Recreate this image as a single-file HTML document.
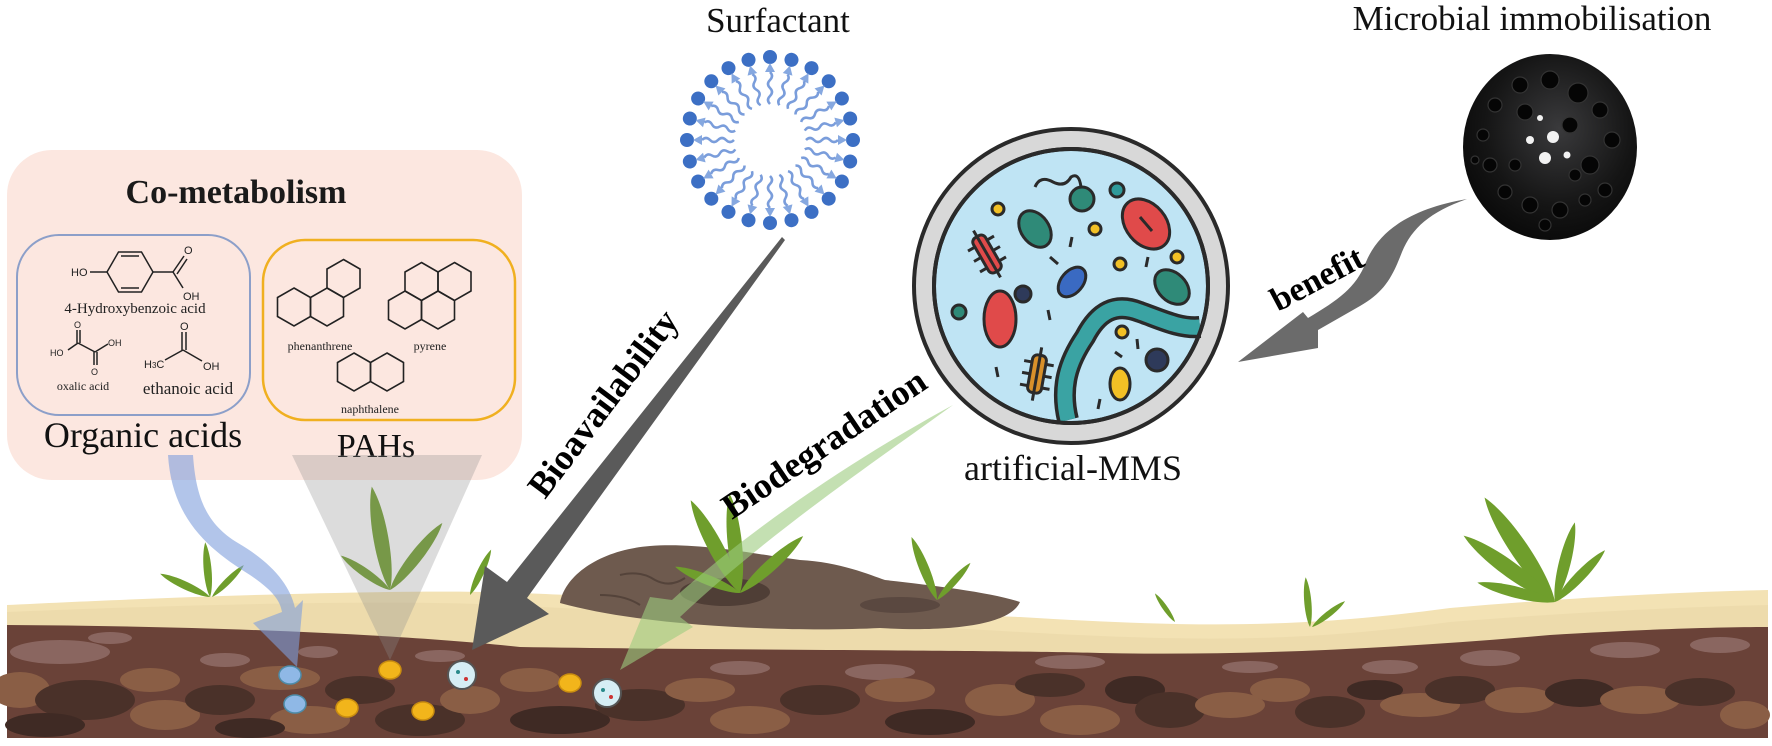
<!DOCTYPE html>
<html><head><meta charset="utf-8"><style>html,body{margin:0;padding:0;background:#fff}svg{display:block}</style></head>
<body>
<svg width="1772" height="746" viewBox="0 0 1772 746" xmlns="http://www.w3.org/2000/svg">
<defs>
<radialGradient id="sg" cx="0.55" cy="0.4" r="0.7"><stop offset="0" stop-color="#3a3a3c"/><stop offset="0.6" stop-color="#151515"/><stop offset="1" stop-color="#050505"/></radialGradient>
<g id="lip"><circle cx="0" cy="-83" r="7" fill="#3c6fc4"/><path d="M0,-77 l-5,9 l10,0 z" fill="#86a8e0"/><path d="M0,-68 q4,4 0,8 q-4,4 0,8 q4,4 0,8 q-4,4 0,8" fill="none" stroke="#7a9ddb" stroke-width="2.5"/></g>
<path id="leaf" d="M0,0 C-9,-20 -10,-75 0,-100 C10,-75 9,-20 0,0 Z" fill="#6f9e2c"/>
<polygon id="hx" points="0,-19 16.5,-9.5 16.5,9.5 0,19 -16.5,9.5 -16.5,-9.5" fill="none" stroke="#222" stroke-width="1.6"/>
</defs>

<!-- soil -->
<path d="M7,605 C150,598 400,588 520,593 C650,598 900,612 1020,617 C1200,628 1300,628 1450,608 C1600,595 1720,591 1768,590 L1768,660 L7,660 Z" fill="#f3e2b4"/>
<path d="M7,612 C150,606 400,598 520,606 C650,612 900,625 1020,632 C1200,642 1300,642 1450,622 C1600,610 1720,606 1768,605 L1768,660 L7,660 Z" fill="#ead7a6" opacity="0.6"/>
<path d="M7,625 C200,626 400,634 520,647 C700,650 1000,650 1100,653 C1250,656 1400,648 1550,635 C1650,629 1720,627 1768,627 L1768,738 L7,738 Z" fill="#6a4238"/>
<g>
<ellipse cx="60" cy="652" rx="50" ry="12" fill="#8a6660"/><ellipse cx="110" cy="638" rx="22" ry="6" fill="#8a6660"/>
<ellipse cx="225" cy="660" rx="25" ry="7" fill="#8a6660"/><ellipse cx="318" cy="652" rx="20" ry="6" fill="#8a6660"/>
<ellipse cx="440" cy="656" rx="25" ry="6" fill="#8a6660"/><ellipse cx="740" cy="668" rx="30" ry="7" fill="#8a6660"/>
<ellipse cx="880" cy="672" rx="35" ry="8" fill="#8a6660"/><ellipse cx="1070" cy="662" rx="35" ry="7" fill="#8a6660"/>
<ellipse cx="1250" cy="667" rx="28" ry="6" fill="#8a6660"/><ellipse cx="1390" cy="667" rx="28" ry="7" fill="#8a6660"/><ellipse cx="1490" cy="658" rx="30" ry="8" fill="#8a6660"/>
<ellipse cx="1625" cy="650" rx="35" ry="8" fill="#8a6660"/><ellipse cx="1720" cy="645" rx="30" ry="8" fill="#8a6660"/>
<ellipse cx="20" cy="690" rx="30" ry="18" fill="#8a5e45"/><ellipse cx="85" cy="700" rx="50" ry="20" fill="#4a3129"/><ellipse cx="45" cy="725" rx="40" ry="12" fill="#3f2a24"/>
<ellipse cx="150" cy="680" rx="30" ry="12" fill="#8a5e45"/><ellipse cx="165" cy="715" rx="35" ry="15" fill="#8a5e45"/><ellipse cx="220" cy="700" rx="35" ry="15" fill="#4a3129"/>
<ellipse cx="280" cy="678" rx="40" ry="12" fill="#8a5e45"/><ellipse cx="310" cy="720" rx="40" ry="14" fill="#8a5e45"/><ellipse cx="250" cy="728" rx="35" ry="10" fill="#3f2a24"/>
<ellipse cx="360" cy="690" rx="35" ry="14" fill="#4a3129"/><ellipse cx="420" cy="720" rx="45" ry="16" fill="#4a3129"/><ellipse cx="470" cy="700" rx="30" ry="14" fill="#8a5e45"/>
<ellipse cx="530" cy="680" rx="30" ry="12" fill="#8a5e45"/><ellipse cx="560" cy="720" rx="50" ry="14" fill="#3f2a24"/><ellipse cx="640" cy="705" rx="45" ry="16" fill="#4a3129"/>
<ellipse cx="700" cy="690" rx="35" ry="12" fill="#8a5e45"/><ellipse cx="750" cy="720" rx="40" ry="14" fill="#8a5e45"/><ellipse cx="820" cy="700" rx="40" ry="15" fill="#4a3129"/>
<ellipse cx="900" cy="690" rx="35" ry="12" fill="#8a5e45"/><ellipse cx="930" cy="722" rx="45" ry="13" fill="#3f2a24"/><ellipse cx="1000" cy="700" rx="35" ry="16" fill="#8a5e45"/>
<ellipse cx="1050" cy="685" rx="35" ry="12" fill="#4a3129"/><ellipse cx="1080" cy="720" rx="40" ry="15" fill="#8a5e45"/><ellipse cx="1135" cy="690" rx="30" ry="14" fill="#3f2a24"/>
<ellipse cx="1170" cy="710" rx="35" ry="18" fill="#4a3129"/><ellipse cx="1230" cy="705" rx="35" ry="13" fill="#8a5e45"/><ellipse cx="1280" cy="690" rx="30" ry="12" fill="#8a5e45"/>
<ellipse cx="1330" cy="712" rx="35" ry="16" fill="#4a3129"/><ellipse cx="1375" cy="690" rx="28" ry="10" fill="#3f2a24"/><ellipse cx="1420" cy="705" rx="40" ry="12" fill="#8a5e45"/>
<ellipse cx="1460" cy="690" rx="35" ry="14" fill="#4a3129"/><ellipse cx="1520" cy="700" rx="35" ry="13" fill="#8a5e45"/><ellipse cx="1580" cy="693" rx="35" ry="14" fill="#3f2a24"/>
<ellipse cx="1640" cy="700" rx="40" ry="14" fill="#8a5e45"/><ellipse cx="1700" cy="692" rx="35" ry="14" fill="#4a3129"/><ellipse cx="1745" cy="715" rx="25" ry="14" fill="#8a5e45"/>
</g>

<!-- rock -->
<path d="M560,603 C565,575 600,550 650,546 C700,542 760,555 800,560 C840,562 870,575 885,580 C930,585 990,592 1020,602 C1010,625 950,632 880,628 C800,632 650,628 560,603 Z" fill="#6e5a4e"/>
<ellipse cx="725" cy="592" rx="45" ry="14" fill="#4f3e36"/>
<ellipse cx="900" cy="605" rx="40" ry="8" fill="#5a4840"/>
<path d="M620,575 q20,-5 35,5 q15,8 30,-2 M600,595 q25,0 40,10" fill="none" stroke="#54433a" stroke-width="2"/>

<!-- plants -->
<g>
<use href="#leaf" transform="translate(210,597) rotate(-65) scale(0.55)"/>
<use href="#leaf" transform="translate(210,597) rotate(-5) scale(0.55)"/>
<use href="#leaf" transform="translate(212,597) rotate(45) scale(0.45)"/>
<use href="#leaf" transform="translate(390,590) rotate(-10) scale(1.05)"/>
<use href="#leaf" transform="translate(390,590) rotate(38) scale(0.85)"/>
<use href="#leaf" transform="translate(390,590) rotate(-55) scale(0.6)"/>
<use href="#leaf" transform="translate(470,595) rotate(25) scale(0.5)"/>
<use href="#leaf" transform="translate(740,593) rotate(-28) scale(1.05)"/>
<use href="#leaf" transform="translate(740,593) rotate(-6) scale(1.0)"/>
<use href="#leaf" transform="translate(740,593) rotate(48) scale(0.85)"/>
<use href="#leaf" transform="translate(740,593) rotate(-68) scale(0.7)"/>
<use href="#leaf" transform="translate(937,600) rotate(-22) scale(0.68)"/>
<use href="#leaf" transform="translate(937,600) rotate(42) scale(0.5)"/>
<use href="#leaf" transform="translate(1175,622) rotate(-35) scale(0.35)"/>
<use href="#leaf" transform="translate(1310,627) rotate(-5) scale(0.5)"/>
<use href="#leaf" transform="translate(1312,627) rotate(52) scale(0.42)"/>
<use href="#leaf" transform="translate(1555,602) rotate(-34) scale(1.26)"/>
<use href="#leaf" transform="translate(1555,602) rotate(-54) scale(1.13)"/>
<use href="#leaf" transform="translate(1555,602) rotate(-76) scale(0.8)"/>
<use href="#leaf" transform="translate(1555,602) rotate(14) scale(0.82)"/>
<use href="#leaf" transform="translate(1555,602) rotate(44) scale(0.72)"/>
</g>

<!-- pink box -->
<rect x="7" y="150" width="515" height="330" rx="45" fill="#fce6de" opacity="0.95"/>
<text x="236" y="203" text-anchor="middle" font-family="Liberation Serif, serif" font-weight="bold" font-size="34" fill="#1a1a1a">Co-metabolism</text>
<rect x="17" y="235" width="233" height="180" rx="42" fill="none" stroke="#8c9fc9" stroke-width="2"/>
<rect x="263" y="240" width="252" height="180" rx="42" fill="none" stroke="#f0b020" stroke-width="2.5"/>

<!-- organic acids structures -->
<g font-family="Liberation Sans, sans-serif" font-size="11" fill="#222" stroke="#222" stroke-width="1.5">
<polygon points="153,272 141.5,252 118.5,252 107,272 118.5,292 141.5,292" fill="none"/>
<line x1="121" y1="256" x2="139" y2="256"/><line x1="121" y1="288" x2="139" y2="288"/>
<line x1="90" y1="272" x2="107" y2="272"/><line x1="153" y1="272" x2="173" y2="272"/>
<line x1="173" y1="272" x2="184" y2="256"/><line x1="177" y1="274" x2="187" y2="259"/><line x1="173" y1="272" x2="183" y2="288"/>
<text x="71" y="276" stroke="none">HO</text><text x="184" y="254" stroke="none">O</text><text x="183" y="300" stroke="none">OH</text>
<line x1="68" y1="350" x2="78" y2="343"/><line x1="78" y1="343" x2="95" y2="352"/><line x1="95" y1="352" x2="108" y2="344"/>
<line x1="77" y1="343" x2="77" y2="330"/><line x1="80" y1="343" x2="80" y2="330"/><line x1="94" y1="352" x2="94" y2="365"/><line x1="97" y1="352" x2="97" y2="365"/>
<text x="50" y="356" stroke="none" font-size="9">HO</text><text x="108" y="346" stroke="none" font-size="9">OH</text><text x="74" y="328" stroke="none" font-size="9">O</text><text x="91" y="375" stroke="none" font-size="9">O</text>
<line x1="165" y1="360" x2="183" y2="350"/><line x1="183" y1="350" x2="202" y2="361"/><line x1="182" y1="350" x2="182" y2="332"/><line x1="186" y1="350" x2="186" y2="332"/>
<text x="144" y="368" stroke="none">H<tspan font-size="8">3</tspan>C</text><text x="180" y="330" stroke="none">O</text><text x="203" y="370" stroke="none">OH</text>
</g>
<g font-family="Liberation Serif, serif" fill="#222">
<text x="135" y="313" text-anchor="middle" font-size="15">4-Hydroxybenzoic acid</text>
<text x="83" y="390" text-anchor="middle" font-size="12">oxalic acid</text>
<text x="188" y="394" text-anchor="middle" font-size="17">ethanoic acid</text>
<text x="320" y="350" text-anchor="middle" font-size="12">phenanthrene</text>
<text x="430" y="350" text-anchor="middle" font-size="12">pyrene</text>
<text x="370" y="413" text-anchor="middle" font-size="12">naphthalene</text>
</g>
<use href="#hx" x="294" y="307"/><use href="#hx" x="327" y="307"/><use href="#hx" x="343.5" y="278.5"/>
<use href="#hx" x="405" y="310"/><use href="#hx" x="438" y="310"/><use href="#hx" x="421.5" y="281.5"/><use href="#hx" x="454.5" y="281.5"/>
<use href="#hx" x="354" y="372"/><use href="#hx" x="387" y="372"/>

<text x="143" y="447" text-anchor="middle" font-family="Liberation Serif, serif" font-size="36" fill="#111">Organic acids</text>
<text x="376" y="457" text-anchor="middle" font-family="Liberation Serif, serif" font-size="34" fill="#111">PAHs</text>

<!-- funnel & blue arrow -->
<polygon points="292,455 482,455 390,660" fill="#8c8c8c" opacity="0.3"/>
<path d="M168,455 C172,520 210,550 250,575 C272,590 280,600 282,612 L253,623 L297,667 L303,600 L295,608 C290,585 272,563 238,543 C208,525 196,500 193,455 Z" fill="#7f9fdc" opacity="0.6"/>

<!-- soil particles -->
<g>
<ellipse cx="290" cy="675" rx="11" ry="9" fill="#8fb8e6" stroke="#4d8ba8" stroke-width="1.5"/>
<ellipse cx="295" cy="704" rx="11" ry="9" fill="#8fb8e6" stroke="#4d8ba8" stroke-width="1.5"/>
<ellipse cx="390" cy="670" rx="11" ry="9" fill="#f2b51b" stroke="#c98d10" stroke-width="1.5"/>
<ellipse cx="347" cy="708" rx="11" ry="9" fill="#f2b51b" stroke="#c98d10" stroke-width="1.5"/>
<ellipse cx="423" cy="711" rx="11" ry="9" fill="#f2b51b" stroke="#c98d10" stroke-width="1.5"/>
<ellipse cx="570" cy="683" rx="11" ry="9" fill="#f2b51b" stroke="#c98d10" stroke-width="1.5"/>
<circle cx="462" cy="675" r="14" fill="#d6eef5" stroke="#555" stroke-width="2"/><circle cx="458" cy="672" r="2" fill="#2a8a8a"/><circle cx="466" cy="679" r="2" fill="#c33"/>
<circle cx="607" cy="693" r="14" fill="#d6eef5" stroke="#555" stroke-width="2"/><circle cx="603" cy="690" r="2" fill="#2a8a8a"/><circle cx="611" cy="697" r="2" fill="#c33"/>
</g>

<!-- dark arrow -->
<polygon points="782,237 785,240 527,598 549,614 472,650 485,566 507,582" fill="#5a5a5a"/>
<text x="0" y="0" transform="translate(545,500) rotate(-53)" font-family="Liberation Serif, serif" font-weight="bold" font-size="36" fill="#000">Bioavailability</text>

<!-- green arrow -->
<path d="M953,405 C870,450 760,520 672,600 L650,597 L620,670 L693,627 L680,617 C770,532 880,458 953,405 Z" fill="#9ccc7e" opacity="0.6"/>
<text x="0" y="0" transform="translate(732,520) rotate(-34)" font-family="Liberation Serif, serif" font-weight="bold" font-size="36" fill="#000">Biodegradation</text>

<!-- Surfactant -->
<text x="778" y="32" text-anchor="middle" font-family="Liberation Serif, serif" font-size="35" fill="#111">Surfactant</text>
<g transform="translate(770,140)">
<use href="#lip" transform="rotate(0)"/><use href="#lip" transform="rotate(15)"/><use href="#lip" transform="rotate(30)"/><use href="#lip" transform="rotate(45)"/>
<use href="#lip" transform="rotate(60)"/><use href="#lip" transform="rotate(75)"/><use href="#lip" transform="rotate(90)"/><use href="#lip" transform="rotate(105)"/>
<use href="#lip" transform="rotate(120)"/><use href="#lip" transform="rotate(135)"/><use href="#lip" transform="rotate(150)"/><use href="#lip" transform="rotate(165)"/>
<use href="#lip" transform="rotate(180)"/><use href="#lip" transform="rotate(195)"/><use href="#lip" transform="rotate(210)"/><use href="#lip" transform="rotate(225)"/>
<use href="#lip" transform="rotate(240)"/><use href="#lip" transform="rotate(255)"/><use href="#lip" transform="rotate(270)"/><use href="#lip" transform="rotate(285)"/>
<use href="#lip" transform="rotate(300)"/><use href="#lip" transform="rotate(315)"/><use href="#lip" transform="rotate(330)"/><use href="#lip" transform="rotate(345)"/>
</g>

<!-- Microbial immobilisation -->
<text x="1532" y="30" text-anchor="middle" font-family="Liberation Serif, serif" font-size="35" fill="#111">Microbial immobilisation</text>
<ellipse cx="1550" cy="147" rx="87" ry="93" fill="url(#sg)"/>
<g fill="#050505" stroke="#333" stroke-width="1.2">
<circle cx="1520" cy="85" r="8"/><circle cx="1550" cy="80" r="9"/><circle cx="1578" cy="93" r="10"/><circle cx="1600" cy="110" r="8"/><circle cx="1495" cy="105" r="7"/>
<circle cx="1525" cy="112" r="8"/><circle cx="1612" cy="140" r="8"/><circle cx="1590" cy="165" r="9"/><circle cx="1605" cy="190" r="7"/><circle cx="1483" cy="135" r="6"/>
<circle cx="1490" cy="165" r="7"/><circle cx="1505" cy="192" r="7"/><circle cx="1530" cy="205" r="8"/><circle cx="1560" cy="210" r="8"/><circle cx="1585" cy="200" r="6"/>
<circle cx="1570" cy="125" r="8"/><circle cx="1515" cy="165" r="6"/><circle cx="1575" cy="175" r="6"/><circle cx="1545" cy="225" r="6"/><circle cx="1475" cy="160" r="4"/>
</g>
<g fill="#f2f2f2"><circle cx="1553" cy="137" r="6"/><circle cx="1545" cy="158" r="6"/><circle cx="1530" cy="140" r="4"/><circle cx="1567" cy="155" r="3.5"/><circle cx="1540" cy="118" r="3"/></g>

<!-- benefit arrow -->
<path d="M1467,199 C1430,212 1412,228 1402,252 C1392,278 1384,292 1360,306 L1318,330 L1318,348 L1238,362 L1303,312 L1308,318 C1338,300 1356,288 1366,262 C1380,228 1415,208 1467,199 Z" fill="#6b6b6b"/>
<text x="0" y="0" transform="translate(1278,312) rotate(-28)" font-family="Liberation Serif, serif" font-weight="bold" font-size="34" fill="#000">benefit</text>

<!-- petri dish -->
<g transform="translate(0,7)">
<circle cx="1071" cy="279" r="157" fill="#d8d8d8" stroke="#2a2a2a" stroke-width="4"/>
<circle cx="1071" cy="279" r="137" fill="#bfe4f4" stroke="#2a2a2a" stroke-width="4"/>
<g stroke="#2a2a2a" stroke-width="3">
<path d="M1035,180 q5,-12 18,-5 q12,6 18,-5 q8,-5 10,10" fill="none"/>
<circle cx="1082" cy="192" r="12" fill="#2f8a78"/>
<circle cx="1117" cy="183" r="7" fill="#2f9a9a"/>
<circle cx="998" cy="202" r="6" fill="#f2c025"/>
<ellipse cx="1035" cy="222" rx="14" ry="20" transform="rotate(-35 1035 222)" fill="#2f8a78"/>
<circle cx="1095" cy="222" r="6" fill="#f2c025"/>
<ellipse cx="1146" cy="217" rx="20" ry="28" transform="rotate(-40 1146 217)" fill="#e04a4a"/>
<line x1="1140" y1="210" x2="1152" y2="224"/>
<rect x="980" y="227" width="14" height="40" rx="5" transform="rotate(-30 987 247)" fill="#e04a4a"/>
<g transform="rotate(-30 987 247)"><line x1="987" y1="220" x2="987" y2="274"/><line x1="972" y1="235" x2="980" y2="235"/><line x1="972" y1="247" x2="980" y2="247"/><line x1="972" y1="259" x2="980" y2="259"/><line x1="994" y1="235" x2="1002" y2="235"/><line x1="994" y1="247" x2="1002" y2="247"/><line x1="994" y1="259" x2="1002" y2="259"/></g>
<circle cx="1120" cy="257" r="6" fill="#f2c025"/><circle cx="1177" cy="250" r="6" fill="#f2c025"/>
<ellipse cx="1072" cy="275" rx="11" ry="17" transform="rotate(40 1072 275)" fill="#3a6ac2"/>
<circle cx="1023" cy="287" r="8" fill="#2e3a5a"/>
<circle cx="959" cy="305" r="7" fill="#2f8a78"/>
<ellipse cx="1172" cy="280" rx="14" ry="20" transform="rotate(-45 1172 280)" fill="#2f8a78"/>
<ellipse cx="1000" cy="312" rx="16" ry="28" fill="#e04a4a"/>
<rect x="1030" y="348" width="14" height="38" rx="5" transform="rotate(10 1037 367)" fill="#d8902a"/>
<g transform="rotate(10 1037 367)"><line x1="1037" y1="340" x2="1037" y2="394"/><line x1="1022" y1="356" x2="1030" y2="356"/><line x1="1022" y1="368" x2="1030" y2="368"/><line x1="1022" y1="380" x2="1030" y2="380"/><line x1="1044" y1="356" x2="1052" y2="356"/><line x1="1044" y1="368" x2="1052" y2="368"/><line x1="1044" y1="380" x2="1052" y2="380"/></g>
<line x1="1072" y1="230" x2="1070" y2="240"/><line x1="1050" y1="250" x2="1058" y2="257"/><line x1="1148" y1="250" x2="1146" y2="260"/><line x1="1048" y1="303" x2="1050" y2="313"/><line x1="996" y1="360" x2="998" y2="370"/>
</g>
<path d="M1068,413 C1060,380 1068,355 1085,330 C1098,305 1115,295 1140,305 C1160,312 1180,322 1200,320" fill="none" stroke="#2a2a2a" stroke-width="22"/>
<path d="M1068,413 C1060,380 1068,355 1085,330 C1098,305 1115,295 1140,305 C1160,312 1180,322 1200,320" fill="none" stroke="#3aa3a3" stroke-width="15"/>
<circle cx="1071" cy="279" r="137" fill="none" stroke="#2a2a2a" stroke-width="4"/>
<g stroke="#2a2a2a" stroke-width="3">
<circle cx="1122" cy="325" r="6" fill="#f2c025"/><circle cx="1157" cy="353" r="11" fill="#2e3a5a"/>
<ellipse cx="1120" cy="377" rx="10" ry="16" fill="#f2c025"/>
<line x1="1115" y1="345" x2="1122" y2="350"/><line x1="1137" y1="332" x2="1138" y2="342"/><line x1="1100" y1="392" x2="1098" y2="402"/>
</g>
</g>
<text x="1073" y="480" text-anchor="middle" font-family="Liberation Serif, serif" font-size="36" fill="#111">artificial-MMS</text>
</svg>
</body></html>
